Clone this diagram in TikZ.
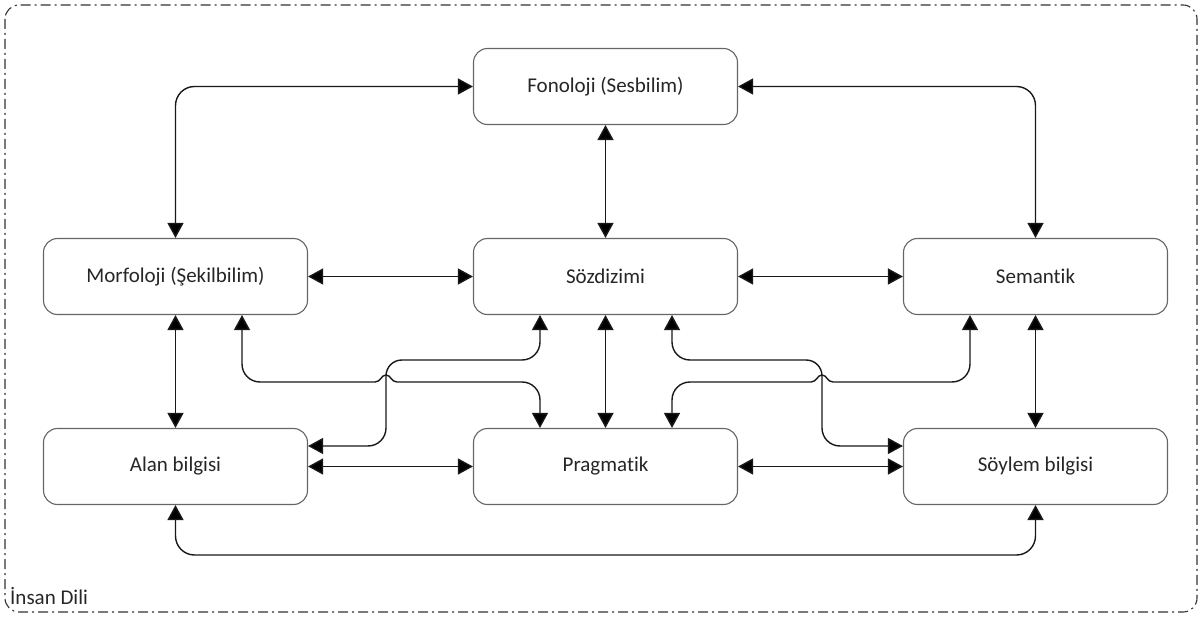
\documentclass[tikz,border=0pt]{standalone}
\usepackage{fontspec}
\setmainfont{Carlito}[Ligatures={NoCommon}]
\usetikzlibrary{arrows.meta}
\begin{document}
\begin{tikzpicture}[x=1pt,y=-1pt,
  box/.style={draw=black!60, line width=1.1pt, rounded corners=14pt,
    minimum width=264pt, minimum height=76pt, fill=white,
    font=\fontsize{21}{25}\selectfont, text=black!85},
  link/.style={draw=black!90, line width=1.4pt, rounded corners=19pt,
    {Triangle[length=15pt,width=16pt,fill=black]}-{Triangle[length=15pt,width=16pt,fill=black]}},
  bent/.style={draw=black!90, line width=1.4pt,
    {Triangle[length=15pt,width=16pt,fill=black]}-{Triangle[length=15pt,width=16pt,fill=black]}},
  frame/.style={draw=black!80, line width=1.1pt, rounded corners=14pt,
    dash pattern=on 10pt off 4pt on 2pt off 4pt}]
\useasboundingbox (0,0) rectangle (1202,617);
\draw[frame] (5,5) rectangle (1197,612);
\node[anchor=base west, font=\fontsize{21}{25}\selectfont, text=black!85, inner sep=0pt]
  (title) at (10,604) {İnsan Dili};

% boxes
\node[box] (fon)  at (605.5,86.5)  {Fonoloji (Sesbilim)};
\node[box] (morf) at (175.5,276.5) {Morfoloji (Şekilbilim)};
\node[box] (soz)  at (605.5,276.5) {Sözdizimi};
\node[box] (sem)  at (1035.5,276.5){Semantik};
\node[box] (alan) at (175.5,466.5) {Alan bilgisi};
\node[box] (prag) at (605.5,466.5) {Pragmatik};
\node[box] (soy)  at (1035.5,466.5){Söylem bilgisi};

\coordinate (bot) at (0,555);

% outer loops
\draw[link] (morf.north) |- (fon.west);
\draw[link] (fon.east) -| (sem.north);
\draw[link] (alan.south) -- (alan.south |- bot) -| (soy.south);

% straight links
\draw[link] (fon.south) -- (soz.north);
\draw[link] (morf.east) -- (soz.west);
\draw[link] (soz.east) -- (sem.west);
\draw[link] (morf.south) -- (alan.north);
\draw[link] (soz.south) -- (prag.north);
\draw[link] (sem.south) -- (soy.north);
\draw[link] (alan.east) -- (prag.west);
\draw[link] (prag.east) -- (soy.west);

% crossing links, left side (rounded bends drawn as curves, with a line jump)
\draw[bent] (242,0 |- morf.south) -- (242,364)
  .. controls (242,374) and (250,382) .. (260,382) -- (375,382)
  .. controls (381,382) and (381,375) .. (386,375)
  .. controls (391,375) and (391,382) .. (397,382) -- (522,382)
  .. controls (532,382) and (540,390) .. (540,400) -- (540,0 |- prag.north);
\draw[bent] (540,0 |- soz.south) -- (540,342)
  .. controls (540,352) and (532,360) .. (522,360) -- (402,360)
  .. controls (393,360) and (386,367) .. (386,376) -- (386,428)
  .. controls (386,438) and (378,446) .. (368,446) -- (alan.east |- 0,446);

% crossing links, right side
\draw[bent] (672,0 |- soz.south) -- (672,342)
  .. controls (672,352) and (680,360) .. (690,360) -- (806,360)
  .. controls (815,360) and (822,367) .. (822,376) -- (822,428)
  .. controls (822,438) and (830,446) .. (840,446) -- (soy.west |- 0,446);
\draw[bent] (970,0 |- sem.south) -- (970,364)
  .. controls (970,374) and (962,382) .. (952,382) -- (833,382)
  .. controls (827,382) and (827,375) .. (822,375)
  .. controls (817,375) and (817,382) .. (811,382) -- (690,382)
  .. controls (680,382) and (672,390) .. (672,400) -- (672,0 |- prag.north);
\end{tikzpicture}
\end{document}
